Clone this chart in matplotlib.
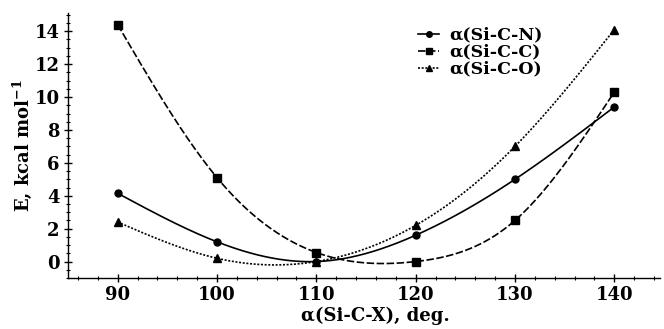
import numpy as np
import matplotlib
matplotlib.use("Agg")
import matplotlib.pyplot as plt
from matplotlib.ticker import MultipleLocator

angles = [90, 100, 110, 120, 130, 140]
e_sicn = [4.15, 1.2, 0.0, 1.6, 5.0, 9.4]
e_sicc = [14.4, 5.1, 0.55, 0.0, 2.5, 10.3]
e_sico = [2.4, 0.2, 0.0, 2.2, 7.0, 14.1]
labels = ["α(Si-C-N)", "α(Si-C-C)", "α(Si-C-O)"]


def natural_spline(x, y, xs):
    x = np.asarray(x, float); y = np.asarray(y, float)
    n = len(x)
    h = np.diff(x)
    A = np.zeros((n, n)); b = np.zeros(n)
    A[0, 0] = 1; A[-1, -1] = 1
    for i in range(1, n - 1):
        A[i, i - 1] = h[i - 1]
        A[i, i] = 2 * (h[i - 1] + h[i])
        A[i, i + 1] = h[i]
        b[i] = 6 * ((y[i + 1] - y[i]) / h[i] - (y[i] - y[i - 1]) / h[i - 1])
    M = np.linalg.solve(A, b)
    out = np.empty_like(xs)
    for k, xv in enumerate(xs):
        i = min(max(np.searchsorted(x, xv) - 1, 0), n - 2)
        t1 = x[i + 1] - xv; t0 = xv - x[i]
        out[k] = (M[i] * t1 ** 3 + M[i + 1] * t0 ** 3) / (6 * h[i]) \
            + (y[i] / h[i] - M[i] * h[i] / 6) * t1 \
            + (y[i + 1] / h[i] - M[i + 1] * h[i] / 6) * t0
    return out


plt.rcParams['font.family'] = 'DejaVu Serif'
plt.rcParams['font.weight'] = 'bold'
plt.rcParams['mathtext.fontset'] = 'dejavuserif'

fig = plt.figure(figsize=(6.64, 3.29), dpi=100)
ax = fig.add_axes([0.1024, 0.155, 0.8916, 0.805])

xs = np.linspace(angles[0], angles[-1], 400)
styles = [('-', 'o', 5), ((0, (4.5, 1.5)), 's', 5.5), ((0, (1.2, 1.0)), '^', 5.5)]
for data, lab, (ls, mk, ms) in zip([e_sicn, e_sicc, e_sico], labels, styles):
    ax.plot(xs, natural_spline(angles, data, xs), color='black', lw=1.2, ls=ls)
    ax.plot(angles, data, ls='none', marker=mk, ms=ms, color='black')
    ax.plot([], [], color='black', lw=1.2, ls=ls, marker=mk, ms=4, label=lab)

ax.set_xlim(85, 144.6)
ax.set_ylim(-1, 15.1)
ax.xaxis.set_major_locator(MultipleLocator(10))
ax.xaxis.set_minor_locator(MultipleLocator(2))
ax.yaxis.set_major_locator(MultipleLocator(2))
ax.yaxis.set_minor_locator(MultipleLocator(0.5))
for s in ['top', 'right']:
    ax.spines[s].set_visible(False)
for s in ['left', 'bottom']:
    ax.spines[s].set_linewidth(1.0)
ax.tick_params(which='major', direction='inout', length=6, width=1.0, labelsize=13, pad=3)
ax.tick_params(which='minor', direction='inout', length=3.5, width=0.8)
for lbl in ax.get_xticklabels() + ax.get_yticklabels():
    lbl.set_fontweight('bold')

ax.set_xlabel('α(Si-C-X), deg.', fontsize=13, fontweight='bold')
ax.xaxis.set_label_coords(0.52, -0.108)
ax.set_ylabel(r'E, kcal mol$^{\mathbf{-1}}$', fontsize=13, fontweight='bold')
ax.yaxis.set_label_coords(-0.058, 0.5)

leg = ax.legend(loc='upper left', bbox_to_anchor=(0.58, 0.975), frameon=False,
                prop={'size': 12.5, 'weight': 'bold'}, handlelength=1.2,
                handletextpad=0.6, labelspacing=0.0, borderaxespad=0)

fig.savefig('out.png', dpi=100)
